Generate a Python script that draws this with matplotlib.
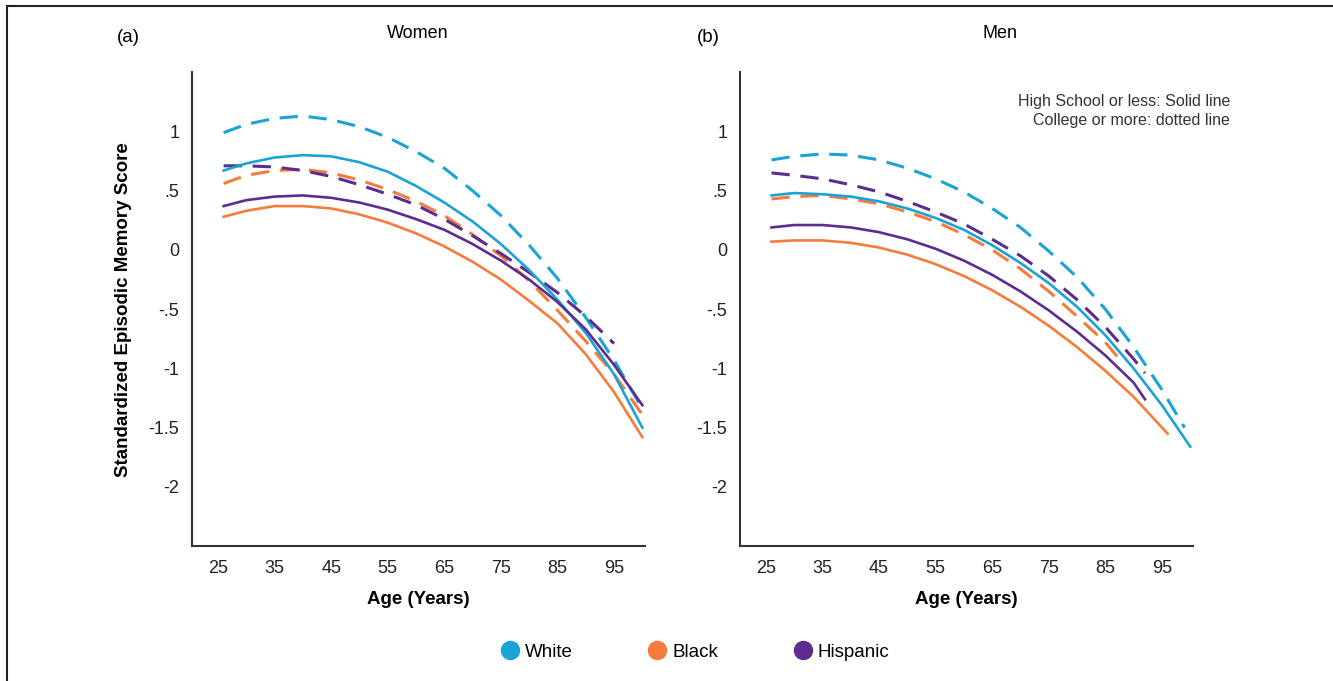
import matplotlib
matplotlib.use('Agg')
import matplotlib.pyplot as plt
from matplotlib.lines import Line2D

plt.rcParams['font.family'] = ['Liberation Sans', 'DejaVu Sans']

groups = ['White', 'Black', 'Hispanic']
colors = {'White': '#1aa3d6', 'Black': '#f77b3b', 'Hispanic': '#5c2d91'}

x_ticks = [25, 35, 45, 55, 65, 75, 85, 95]
y_ticks = [1, 0.5, 0, -0.5, -1, -1.5, -2]
y_tick_labels = ['1', '.5', '0', '-.5', '-1', '-1.5', '-2']

# women
w_age = [26, 30, 35, 40, 45, 50, 55, 60, 65, 70, 75, 80, 85, 90, 95, 100]
w_white_hs = [0.67, 0.73, 0.78, 0.80, 0.79, 0.74, 0.66, 0.54, 0.40, 0.24, 0.05, -0.17, -0.42, -0.70, -1.05, -1.50]
w_white_col = [0.99, 1.06, 1.11, 1.13, 1.10, 1.04, 0.95, 0.83, 0.69, 0.50, 0.29, 0.04, -0.24, -0.57, -0.93, -1.34]
w_black_hs = [0.28, 0.33, 0.37, 0.37, 0.35, 0.30, 0.23, 0.14, 0.03, -0.10, -0.25, -0.43, -0.62, -0.88, -1.20, -1.58]
w_black_col = [0.56, 0.63, 0.67, 0.68, 0.65, 0.59, 0.51, 0.41, 0.29, 0.13, -0.05, -0.26, -0.51, -0.77, -1.05, -1.39]
w_hisp_hs = [0.37, 0.42, 0.45, 0.46, 0.44, 0.40, 0.34, 0.26, 0.17, 0.05, -0.09, -0.25, -0.44, -0.67, -0.97, -1.31]
w_hisp_col_age = [26, 30, 35, 40, 45, 50, 55, 60, 65, 70, 75, 80, 85, 90, 95]
w_hisp_col = [0.71, 0.71, 0.70, 0.67, 0.62, 0.55, 0.47, 0.38, 0.26, 0.12, -0.03, -0.19, -0.36, -0.56, -0.79]

# men
m_white_age = [26, 30, 35, 40, 45, 50, 55, 60, 65, 70, 75, 80, 85, 90, 95, 100]
m_white_hs = [0.46, 0.48, 0.47, 0.45, 0.41, 0.35, 0.27, 0.17, 0.04, -0.11, -0.28, -0.48, -0.72, -1.00, -1.31, -1.66]
m_white_col_age = [26, 30, 35, 40, 45, 50, 55, 60, 65, 70, 75, 80, 85, 90, 95, 99]
m_white_col = [0.76, 0.79, 0.81, 0.80, 0.76, 0.69, 0.60, 0.49, 0.35, 0.19, -0.01, -0.23, -0.50, -0.82, -1.18, -1.50]
m_black_hs_age = [26, 30, 35, 40, 45, 50, 55, 60, 65, 70, 75, 80, 85, 90, 96]
m_black_hs = [0.07, 0.08, 0.08, 0.06, 0.02, -0.04, -0.12, -0.22, -0.34, -0.48, -0.64, -0.82, -1.02, -1.24, -1.55]
m_black_col_age = [26, 30, 35, 40, 45, 50, 55, 60, 65, 70, 75, 80, 85, 88]
m_black_col = [0.43, 0.45, 0.46, 0.43, 0.39, 0.32, 0.24, 0.13, 0.00, -0.16, -0.35, -0.56, -0.78, -0.95]
m_hisp_hs_age = [26, 30, 35, 40, 45, 50, 55, 60, 65, 70, 75, 80, 85, 90, 92]
m_hisp_hs = [0.19, 0.21, 0.21, 0.19, 0.15, 0.09, 0.01, -0.09, -0.21, -0.35, -0.51, -0.69, -0.89, -1.12, -1.26]
m_hisp_col_age = [26, 30, 35, 40, 45, 50, 55, 60, 65, 70, 75, 80, 85, 90, 92]
m_hisp_col = [0.65, 0.63, 0.60, 0.55, 0.49, 0.41, 0.32, 0.22, 0.09, -0.05, -0.22, -0.42, -0.65, -0.92, -1.04]

women = [
    ('White', w_age, w_white_col, True), ('Black', w_age, w_black_col, True),
    ('Hispanic', w_hisp_col_age, w_hisp_col, True),
    ('White', w_age, w_white_hs, False), ('Black', w_age, w_black_hs, False),
    ('Hispanic', w_age, w_hisp_hs, False),
]
men = [
    ('White', m_white_col_age, m_white_col, True), ('Black', m_black_col_age, m_black_col, True),
    ('Hispanic', m_hisp_col_age, m_hisp_col, True),
    ('White', m_white_age, m_white_hs, False), ('Black', m_black_hs_age, m_black_hs, False),
    ('Hispanic', m_hisp_hs_age, m_hisp_hs, False),
]

fig = plt.figure(figsize=(13.33, 6.81), dpi=100)
ax1 = fig.add_axes([0.144, 0.198, 0.340, 0.696])
ax2 = fig.add_axes([0.555, 0.198, 0.340, 0.696])

for ax, series in [(ax1, women), (ax2, men)]:
    for grp, ages, vals, college in series:
        if college:
            ax.plot(ages, vals, color=colors[grp], lw=2.2, ls=(0, (6, 3.5)))
        else:
            ax.plot(ages, vals, color=colors[grp], lw=1.9)
    ax.set_xlim(20.4, 100.5)
    ax.set_ylim(-2.5, 1.5)
    ax.set_xticks(x_ticks)
    ax.set_yticks(y_ticks)
    ax.set_yticklabels(y_tick_labels)
    ax.tick_params(length=0, labelsize=13, colors='#222222')
    ax.tick_params(axis='x', pad=10)
    ax.tick_params(axis='y', pad=9)
    for s in ['top', 'right']:
        ax.spines[s].set_visible(False)
    for s in ['left', 'bottom']:
        ax.spines[s].set_color('#333333')
        ax.spines[s].set_linewidth(1.5)
    ax.set_xlabel('Age (Years)', fontsize=13.5, fontweight='bold', labelpad=10)

ax1.set_ylabel('Standardized Episodic Memory Score', fontsize=13.5, fontweight='bold', labelpad=12)

fig.text(0.096, 0.945, '(a)', fontsize=13.5, ha='center', va='center')
fig.text(0.3136, 0.951, 'Women', fontsize=13, ha='center', va='center')
fig.text(0.531, 0.945, '(b)', fontsize=13.5, ha='center', va='center')
fig.text(0.750, 0.951, 'Men', fontsize=13, ha='center', va='center')
fig.text(0.9227, 0.862, 'High School or less: Solid line\nCollege or more: dotted line',
         fontsize=11.5, ha='right', va='top', linespacing=1.35, color='#333333')

handles = [Line2D([], [], ls='', marker='o', markersize=13, color=colors[g]) for g in groups]
fig.legend(handles, groups, loc='center', bbox_to_anchor=(0.5215, 0.0426), ncol=3,
           frameon=False, fontsize=13.5, handlelength=1.0, handletextpad=0.3,
           columnspacing=4.0)

# frame of the original figure (top and left edges)
fig.add_artist(Line2D([0.0053, 0.0053], [0, 0.991], transform=fig.transFigure, color='#222222', lw=1.5))
fig.add_artist(Line2D([0.0053, 1], [0.991, 0.991], transform=fig.transFigure, color='#222222', lw=1.5))

fig.savefig('out.png', dpi=100)
